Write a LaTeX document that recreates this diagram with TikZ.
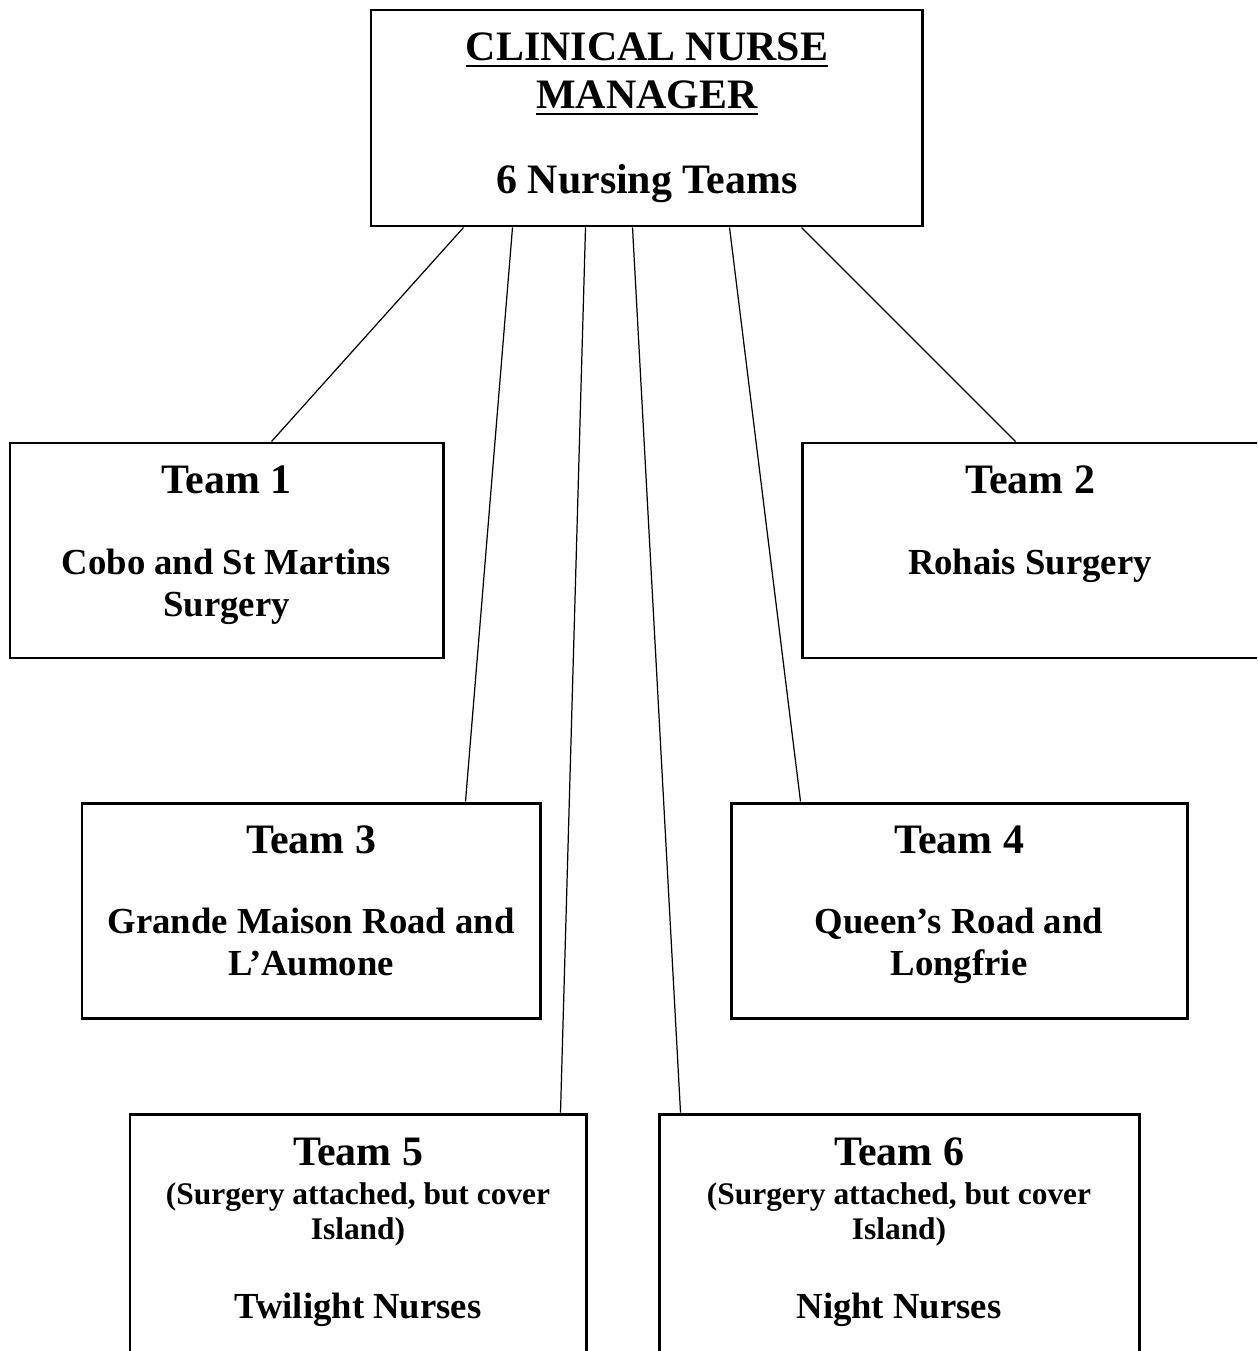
\documentclass[tikz,border=0pt]{standalone}
\usepackage{fontspec}
\setmainfont{Liberation Serif}
\usetikzlibrary{fit,calc}
\newcommand\ftitle{\fontsize{23.85}{27}\selectfont\bfseries}
\newcommand\fbody{\fontsize{20.9}{24}\selectfont\bfseries}
\newcommand\fsub{\fontsize{17.9}{21}\selectfont\bfseries}
\tikzset{
  box/.style={draw, line width=1.7pt, inner sep=0pt, rectangle},
  link/.style={line width=0.7pt},
  ttl/.style={anchor=base, inner sep=0pt, font=\ftitle},
  bdy/.style={anchor=base, inner sep=0pt, font=\fbody},
  sub/.style={anchor=base, inner sep=0pt, font=\fsub},
  uline/.style={line width=1.1pt}
}
\begin{document}
\begin{tikzpicture}[x=0.02cm,y=-0.02cm]
\useasboundingbox (0,0) rectangle (1257,1351);
\clip (0,0) rectangle (1257,1351);
\fill[white] (0,0) rectangle (1257,1351);

% boxes
\node[box, fit={(371,10) (922,226)}] (top) {};
\node[box, fit={(10,443) (443,658)}] (t1) {};
\node[box, fit={(802,443) (1260,658)}] (t2) {};
\node[box, fit={(82,803) (540,1018)}] (t3) {};
\node[box, fit={(731,803) (1187,1018)}] (t4) {};
\node[box, fit={(130,1114) (586,1368)}] (t5) {};
\node[box, fit={(659,1114) (1139,1368)}] (t6) {};

% top text
\node[ttl] (ca) at (647,61) {CLINICAL NURSE};
\node[ttl] (cb) at (647,109) {MANAGER};
\node[ttl] (cc) at (647,194) {6 Nursing Teams};
\draw[uline] ($(ca.base west)+(0,5)$) -- ($(ca.base east)+(0,5)$);
\draw[uline] ($(cb.base west)+(0,5)$) -- ($(cb.base east)+(0,5)$);

% team 1
\node[ttl] (a1) at (226.5,493) {Team 1};
\node[bdy] (a2) at (226.5,574) {Cobo and St Martins};
\node[bdy] (a3) at (226.5,616) {Surgery};

% team 2
\node[ttl] (b1) at (1030,493) {Team 2};
\node[bdy] (b2) at (1030,574) {Rohais Surgery};

% team 3
\node[ttl] (c1) at (311,853) {Team 3};
\node[bdy] (c2) at (311,933) {Grande Maison Road and};
\node[bdy] (c3) at (311,975) {L’Aumone};

% team 4
\node[ttl] (d1) at (959,853) {Team 4};
\node[bdy] (d2) at (959,933) {Queen’s Road and};
\node[bdy] (d3) at (959,975) {Longfrie};

% team 5
\node[ttl] (e1) at (358,1165) {Team 5};
\node[sub] (e2) at (358,1204) {(Surgery attached, but cover};
\node[sub] (e3) at (358,1239) {Island)};
\node[bdy] (e4) at (358,1318) {Twilight Nurses};

% team 6
\node[ttl] (f1) at (899,1165) {Team 6};
\node[sub] (f2) at (899,1204) {(Surgery attached, but cover};
\node[sub] (f3) at (899,1239) {Island)};
\node[bdy] (f4) at (899,1318) {Night Nurses};

% connectors
\draw[link] ($(top.south west)+(94,0)$) -- ($(t1.north west)+(263,0)$);
\draw[link] ($(top.south west)+(143,0)$) -- ($(t3.north west)+(385,0)$);
\draw[link] ($(top.south west)+(216,0)$) -- ($(t5.north west)+(432,0)$);
\draw[link] ($(top.south west)+(263,0)$) -- ($(t6.north west)+(23,0)$);
\draw[link] ($(top.south west)+(360,0)$) -- ($(t4.north west)+(71,0)$);
\draw[link] ($(top.south west)+(432,0)$) -- ($(t2.north west)+(215,0)$);
\end{tikzpicture}
\end{document}
